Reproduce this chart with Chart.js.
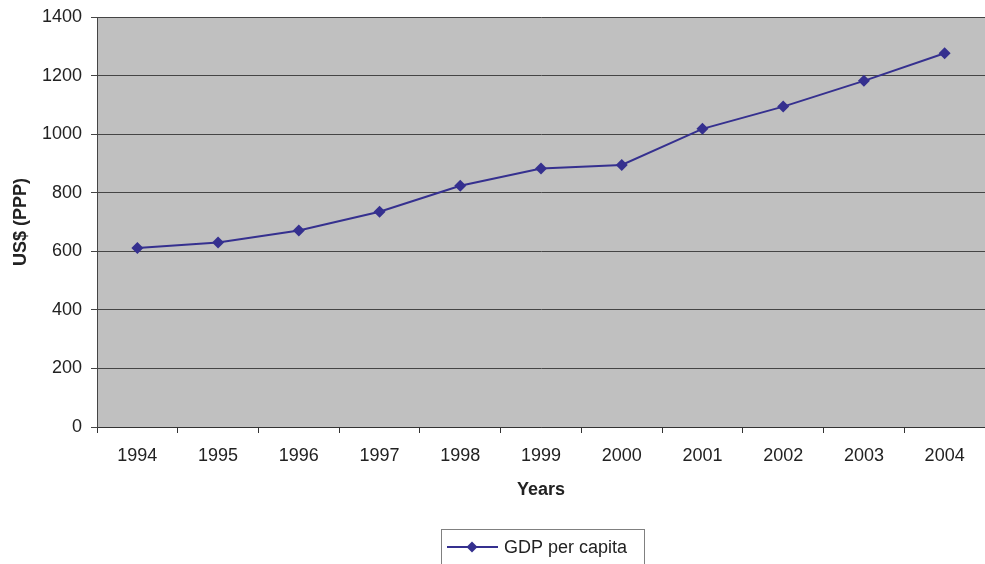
<!DOCTYPE html>
<html>
<head>
<meta charset="utf-8">
<title>GDP per capita</title>
<script src="https://cdn.jsdelivr.net/npm/chart.js@4/dist/chart.umd.min.js"></script>
<style>
  html, body { margin: 0; padding: 0; background: #ffffff; }
  canvas { display: block; }
</style>
</head>
<body>
<canvas id="chart" width="985" height="564"></canvas>
<script>
// Years on the category axis
const years = ['1994', '1995', '1996', '1997', '1998', '1999', '2000', '2001', '2002', '2003', '2004'];
// GDP per capita, US$ (PPP)
const gdpPerCapita = [611, 630, 671, 735, 824, 883, 895, 1018, 1094, 1182, 1276];
// Value axis ticks
const yTicks = [0, 200, 400, 600, 800, 1000, 1200, 1400];

const FONT = '"Liberation Sans", Arial, Helvetica, sans-serif';
const LINE_COLOR = '#35308f';

// Grey plot area behind the grid and the line
const plotBackground = {
  id: 'plotBackground',
  beforeDraw(chart) {
    const { ctx, chartArea: a } = chart;
    ctx.save();
    ctx.fillStyle = '#c0c0c0';
    ctx.fillRect(a.left, a.top, a.right - a.left, a.bottom - a.top);
    ctx.restore();
  }
};

// Boxed legend with a line-and-diamond sample
const boxedLegend = {
  id: 'boxedLegend',
  afterDraw(chart) {
    const { ctx } = chart;
    const ds = chart.data.datasets[0];
    ctx.save();
    ctx.strokeStyle = '#808080';
    ctx.lineWidth = 1;
    ctx.strokeRect(441.5, 529.5, 203, 40);

    const cy = 547;
    ctx.strokeStyle = ds.borderColor;
    ctx.lineWidth = 2;
    ctx.beginPath();
    ctx.moveTo(447, cy);
    ctx.lineTo(498, cy);
    ctx.stroke();

    const r = 5.5;
    const cx = 472;
    ctx.fillStyle = ds.pointBackgroundColor;
    ctx.beginPath();
    ctx.moveTo(cx, cy - r);
    ctx.lineTo(cx + r, cy);
    ctx.lineTo(cx, cy + r);
    ctx.lineTo(cx - r, cy);
    ctx.closePath();
    ctx.fill();

    ctx.fillStyle = '#222222';
    ctx.font = '18px ' + FONT;
    ctx.textBaseline = 'middle';
    ctx.textAlign = 'left';
    ctx.fillText(ds.label, 504, cy + 1);
    ctx.restore();
  }
};

new Chart(document.getElementById('chart'), {
  type: 'line',
  data: {
    labels: years,
    datasets: [{
      label: 'GDP per capita',
      data: gdpPerCapita,
      borderColor: LINE_COLOR,
      backgroundColor: LINE_COLOR,
      pointBackgroundColor: LINE_COLOR,
      pointBorderColor: LINE_COLOR,
      borderWidth: 2,
      pointStyle: 'rectRot',
      pointRadius: 6,
      pointBorderWidth: 0,
      tension: 0,
      fill: false
    }]
  },
  options: {
    responsive: false,
    animation: false,
    events: [],
    layout: { autoPadding: false, padding: { top: 17, left: 0, right: 0, bottom: 62 } },
    plugins: {
      legend: { display: false },
      tooltip: { enabled: false }
    },
    scales: {
      x: {
        type: 'category',
        offset: true,
        grid: {
          display: true,
          offset: true,
          drawOnChartArea: false,
          drawTicks: true,
          tickLength: 6,
          color: '#333333'
        },
        border: { display: true, color: '#333333', width: 1 },
        ticks: {
          color: '#222222',
          padding: 12,
          maxRotation: 0,
          autoSkip: false,
          font: { family: FONT, size: 18 }
        },
        title: {
          display: true,
          text: 'Years',
          color: '#222222',
          font: { family: FONT, size: 18, weight: 'bold', lineHeight: 1.2 },
          padding: { top: 0, bottom: 1 }
        },
        afterFit(scale) {
          scale.height = 75;
          scale.paddingLeft = 0;
          scale.paddingRight = 0;
        }
      },
      y: {
        min: 0,
        max: 1400,
        afterBuildTicks(scale) { scale.ticks = yTicks.map(v => ({ value: v })); },
        grid: {
          color: '#454545',
          lineWidth: 1,
          tickLength: 6,
          drawTicks: true
        },
        border: { display: true, color: '#454545', width: 1 },
        ticks: {
          color: '#222222',
          padding: 9,
          font: { family: FONT, size: 18 },
          callback: (v) => String(v)
        },
        title: {
          display: true,
          text: 'US$ (PPP)',
          color: '#222222',
          font: { family: FONT, size: 18, weight: 'bold', lineHeight: 1.2 },
          padding: { top: 10, bottom: 0 }
        },
        afterFit(scale) {
          scale.width = 97;
          scale.paddingTop = 0;
          scale.paddingBottom = 0;
        }
      }
    }
  },
  plugins: [plotBackground, boxedLegend]
});
</script>
</body>
</html>
